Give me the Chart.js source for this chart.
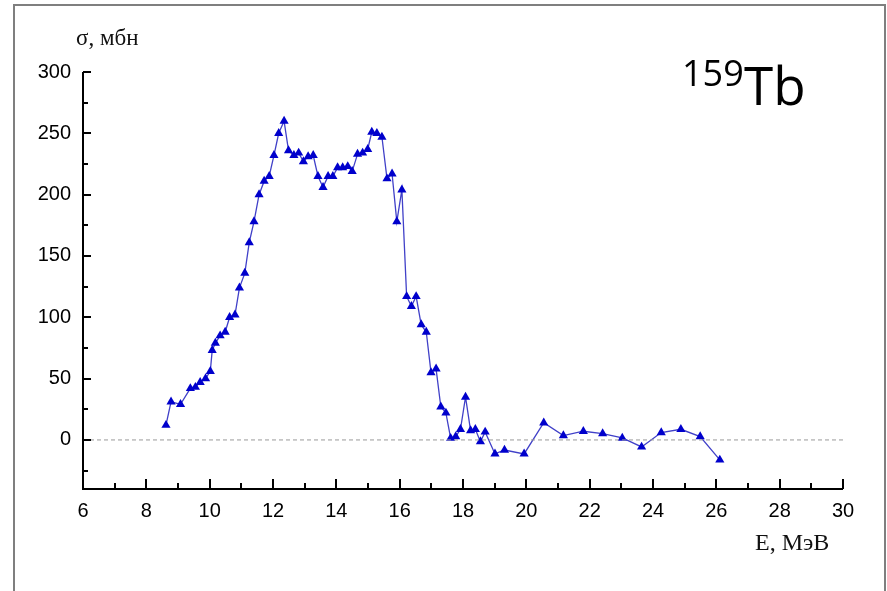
<!DOCTYPE html>
<html>
<head>
<meta charset="utf-8">
<script src="https://cdn.jsdelivr.net/npm/chart.js@4/dist/chart.umd.min.js"></script>
<style>
  html, body { margin: 0; padding: 0; background: #fff; }
  #wrap { position: relative; width: 887px; height: 591px; overflow: hidden; }
  #frame {
    position: absolute; left: 13px; top: 4px; width: 873px; height: 620px;
    border: 2.5px solid #7f7f7f; box-sizing: border-box;
  }
  canvas { position: absolute; left: 0; top: 0; }
</style>
</head>
<body>
<div id="wrap">
  <div id="frame"></div>
  <canvas id="chart" width="887" height="591"></canvas>
</div>
<script>
// === Data: photonuclear cross section, 159Tb ===
const energy = [
  8.62, 8.78, 9.08, 9.39, 9.55, 9.70, 9.87, 10.02, 10.08, 10.18, 10.33, 10.49, 10.63, 10.80, 10.94,
  11.11, 11.25, 11.40, 11.56, 11.72, 11.88, 12.03, 12.18, 12.35, 12.49, 12.66, 12.81, 12.96, 13.11, 13.27, 13.42,
  13.58, 13.74, 13.89, 14.04, 14.20, 14.36, 14.50, 14.67, 14.83, 14.99, 15.12, 15.28, 15.44, 15.60, 15.76, 15.91, 16.07,
  16.22, 16.37, 16.52, 16.68, 16.84, 16.99, 17.15, 17.30, 17.46, 17.61, 17.77, 17.92, 18.08, 18.24, 18.39, 18.55, 18.70,
  19.01, 19.31, 19.93, 20.55, 21.17, 21.80, 22.41, 23.03, 23.64, 24.26, 24.88, 25.49, 26.11,
];
const sigma = [
  12, 31, 29, 42, 43, 47, 50, 56, 73, 79, 85, 88, 100, 102, 124,
  136, 161, 178, 200, 211, 215, 232, 250, 260, 236, 232, 234, 227, 231, 232, 215,
  206, 215, 215, 222, 222, 223, 219, 233, 234, 237, 251, 250, 247, 213, 217, 178, 204,
  117, 109, 117, 94, 88, 55, 58, 27, 22, 1.4, 2.7, 8.7, 35, 7.6, 8.7, -1.4, 6.5,
  -11.4, -8.2, -11.4, 14, 3.5, 7.1, 5.2, 1.6, -5.7, 6, 8.7, 2.7, -16.3,
];
const xTicks = [6, 8, 10, 12, 14, 16, 18, 20, 22, 24, 26, 28, 30];
const yTicks = [0, 50, 100, 150, 200, 250, 300];
const zeroLine = [6, 30];

// === Axis frame: lines plus inward major/minor ticks ===
const axisFrame = {
  id: "axisFrame",
  afterDraw(chart) {
    const { ctx, chartArea: a, scales: { x, y } } = chart;
    ctx.save();
    ctx.strokeStyle = "#000";
    ctx.lineWidth = 2;
    ctx.beginPath();
    ctx.moveTo(a.left, y.getPixelForValue(300));
    ctx.lineTo(a.left, a.bottom);
    ctx.lineTo(a.right, a.bottom);
    ctx.stroke();

    ctx.beginPath();
    for (let v = 6; v <= 30; v += 1) {
      const px = Math.round(x.getPixelForValue(v));
      const len = v % 2 === 0 ? 10 : 6;
      ctx.moveTo(px, a.bottom);
      ctx.lineTo(px, a.bottom - len);
    }
    for (let v = -25; v <= 300; v += 25) {
      const py = Math.round(y.getPixelForValue(v));
      const len = v % 50 === 0 ? 8 : 5;
      ctx.moveTo(a.left, py);
      ctx.lineTo(a.left + len, py);
    }
    ctx.stroke();

    // axis titles and nucleus label
    ctx.fillStyle = "#111";
    ctx.textBaseline = "alphabetic";
    ctx.font = '23px "Liberation Serif", "DejaVu Serif", serif';
    ctx.fillText("σ, мбн", 76, 45);
    ctx.font = '24px "Liberation Serif", "DejaVu Serif", serif';
    ctx.fillText("E, МэВ", 755, 550);

    ctx.fillStyle = "#000";
    ctx.font = '36px "Open Sans", sans-serif';
    ctx.fillText("159", 682, 86);
    ctx.font = '53px "Open Sans", sans-serif';
    ctx.fillText("Tb", 744, 105);
    ctx.restore();
  },
};

const tickFont = { family: '"Liberation Sans", Arial, sans-serif', size: 20 };

new Chart(document.getElementById("chart"), {
  type: "scatter",
  data: {
    datasets: [
      {
        label: "zero",
        data: zeroLine.map((e) => ({ x: e, y: 0 })),
        showLine: true,
        borderColor: "#9a9a9a",
        borderWidth: 1,
        borderDash: [4, 3],
        pointRadius: 0,
      },
      {
        label: "159Tb",
        data: energy.map((e, i) => ({ x: e, y: sigma[i] })),
        showLine: true,
        borderColor: "#4040c8",
        borderWidth: 1.3,
        pointStyle: "triangle",
        pointRadius: 5.3,
        pointBorderWidth: 0,
        pointBackgroundColor: "#0000cc",
        pointBorderColor: "#0000cc",
      },
    ],
  },
  options: {
    responsive: false,
    animation: false,
    layout: { padding: { left: 0, right: 44, top: 72, bottom: 0 } },
    plugins: { legend: { display: false }, tooltip: { enabled: false } },
    scales: {
      x: {
        type: "linear",
        min: 6,
        max: 30,
        afterFit: (s) => { s.height = 102; },
        afterBuildTicks: (s) => { s.ticks = xTicks.map((v) => ({ value: v })); },
        grid: { display: false, drawTicks: false },
        border: { display: false },
        ticks: { color: "#000", font: tickFont, padding: 10 },
      },
      y: {
        type: "linear",
        min: -40,
        max: 300,
        afterFit: (s) => { s.width = 83; },
        afterBuildTicks: (s) => { s.ticks = yTicks.map((v) => ({ value: v })); },
        grid: { display: false, drawTicks: false },
        border: { display: false },
        ticks: { color: "#000", font: tickFont, padding: 12 },
      },
    },
  },
  plugins: [axisFrame],
});
</script>
</body>
</html>
